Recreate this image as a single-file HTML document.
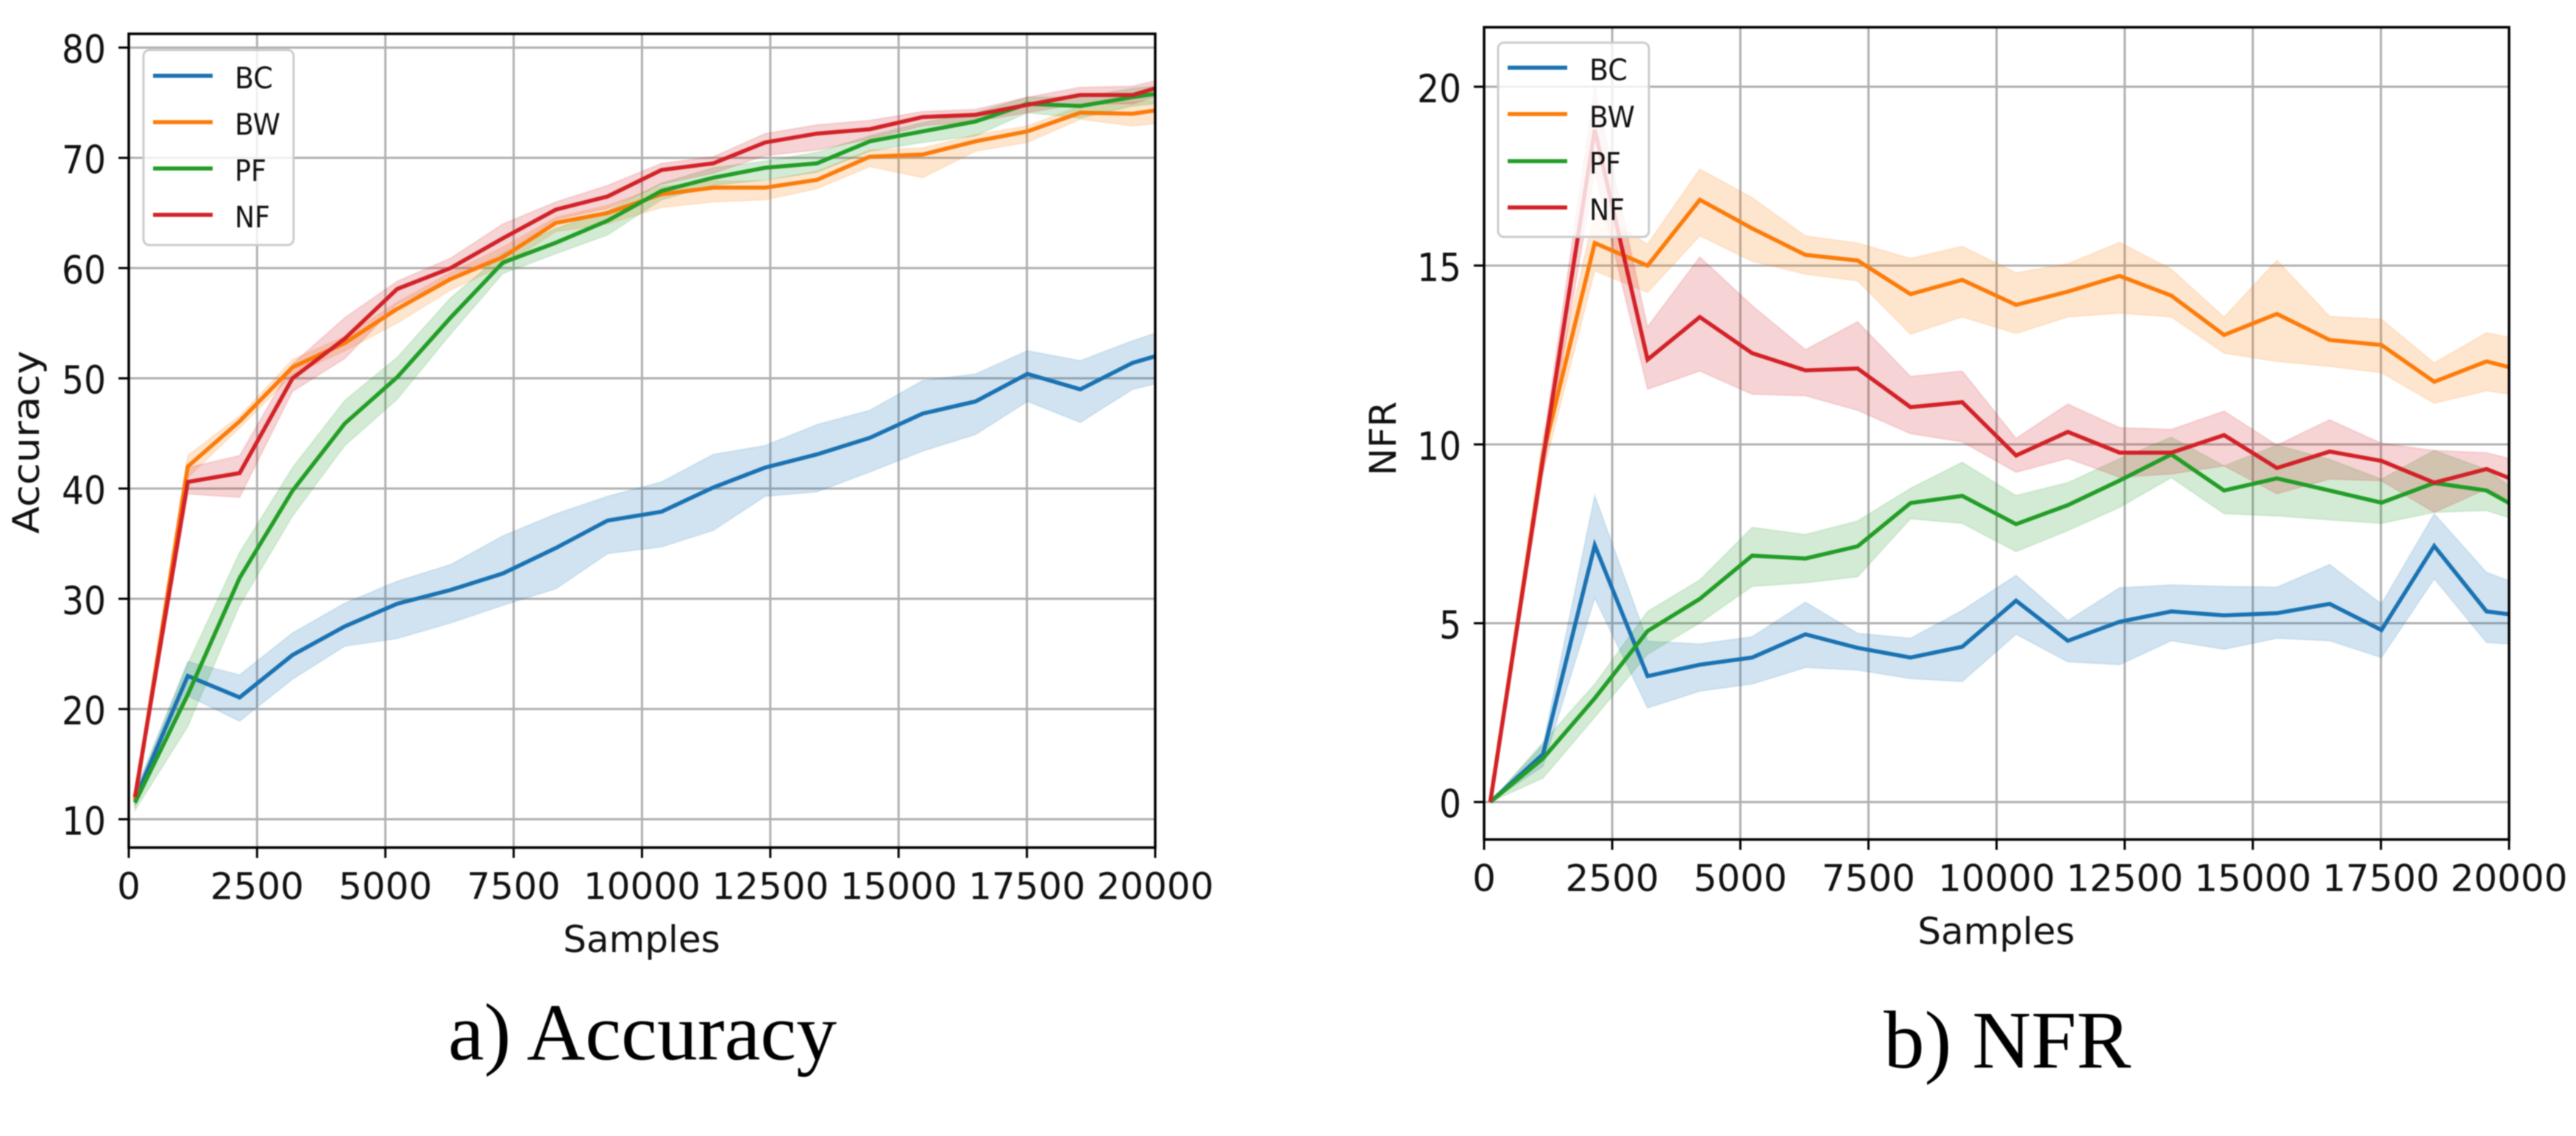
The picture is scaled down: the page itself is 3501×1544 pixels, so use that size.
<!DOCTYPE html>
<html lang="en">
<head>
<meta charset="utf-8">
<title>Accuracy and NFR versus samples</title>
<style>
html,body{margin:0;padding:0;background:#fff;width:3501px;height:1544px;overflow:hidden}
svg{display:block;filter:blur(0.9px)}
text{font-family:"DejaVu Sans","Liberation Sans",sans-serif;fill:#111}
.caption{font-family:"Liberation Serif",serif;fill:#000}
</style>
</head>
<body>
<svg id="figure" width="3501" height="1544" viewBox="0 0 3501 1544" xmlns="http://www.w3.org/2000/svg">
  <defs>
    <clipPath id="clip-a"><rect x="175" y="46" width="1395" height="1106"/></clipPath>
    <clipPath id="clip-b"><rect x="2017" y="37" width="1393" height="1104"/></clipPath>
  </defs>
  <rect width="3501" height="1544" fill="#fff"/>
  <g id="chart-a"></g>
  <g id="chart-b"></g>

  <text x="872" y="1294" font-size="50" text-anchor="middle">Samples</text>
  <text transform="translate(53 601) rotate(-90)" font-size="50" text-anchor="middle" textLength="249" lengthAdjust="spacingAndGlyphs">Accuracy</text>
  <text x="2713" y="1283" font-size="50" text-anchor="middle">Samples</text>
  <text transform="translate(1897 596) rotate(-90)" font-size="50" text-anchor="middle">NFR</text>

  <g>
    <rect x="195" y="68" width="204" height="265" rx="8" fill="#fff" fill-opacity="0.8" stroke="#ccc" stroke-width="3"/>
    <g><line x1="208" x2="289" y1="103" y2="103" stroke="#1a72b2" stroke-width="5.5"/><text x="319" y="120" font-size="40" textLength="52" lengthAdjust="spacingAndGlyphs">BC</text></g>
    <g><line x1="208" x2="289" y1="166" y2="166" stroke="#fb7c0a" stroke-width="5.5"/><text x="319" y="183" font-size="40" textLength="62" lengthAdjust="spacingAndGlyphs">BW</text></g>
    <g><line x1="208" x2="289" y1="229" y2="229" stroke="#229d27" stroke-width="5.5"/><text x="319" y="246" font-size="40" textLength="43" lengthAdjust="spacingAndGlyphs">PF</text></g>
    <g><line x1="208" x2="289" y1="292" y2="292" stroke="#d22228" stroke-width="5.5"/><text x="319" y="309" font-size="40" textLength="48" lengthAdjust="spacingAndGlyphs">NF</text></g>
  </g>
  <g>
    <rect x="2036" y="58" width="205" height="264" rx="8" fill="#fff" fill-opacity="0.8" stroke="#ccc" stroke-width="3"/>
    <g><line x1="2049" x2="2130" y1="92" y2="92" stroke="#1a72b2" stroke-width="5.5"/><text x="2160" y="109" font-size="40" textLength="52" lengthAdjust="spacingAndGlyphs">BC</text></g>
    <g><line x1="2049" x2="2130" y1="155" y2="155" stroke="#fb7c0a" stroke-width="5.5"/><text x="2160" y="173" font-size="40" textLength="62" lengthAdjust="spacingAndGlyphs">BW</text></g>
    <g><line x1="2049" x2="2130" y1="219" y2="219" stroke="#229d27" stroke-width="5.5"/><text x="2160" y="236" font-size="40" textLength="43" lengthAdjust="spacingAndGlyphs">PF</text></g>
    <g><line x1="2049" x2="2130" y1="282" y2="282" stroke="#d22228" stroke-width="5.5"/><text x="2160" y="299" font-size="40" textLength="48" lengthAdjust="spacingAndGlyphs">NF</text></g>
  </g>

  <text class="caption" x="609" y="1440" font-size="110">a) Accuracy</text>
  <text class="caption" x="2560" y="1451" font-size="111">b) NFR</text>
</svg>
<script>
const samples = [120,1150,2160,3190,4210,5230,6270,7290,8320,9330,10380,11390,12400,13410,14440,15470,16500,17510,18540,19560,20000];
const xTicks = [0,2500,5000,7500,10000,12500,15000,17500,20000];
const accuracyTicks = [10,20,30,40,50,60,70,80];
const nfrTicks = [0,5,10,15,20];

const accBC = [11.8,23.0,21.05,24.9,27.5,29.55,30.8,32.3,34.6,37.1,37.9,40.1,41.9,43.1,44.6,46.8,47.9,50.4,49.0,51.4,52.0];
const accBCHigh = [12.5,24.3,23.1,26.9,29.6,31.6,33.1,35.7,37.7,39.3,40.6,43.1,43.9,45.8,47.1,49.8,50.4,52.5,51.6,53.4,54.1];
const accBCLow = [11.2,21.2,18.9,22.7,25.7,26.4,27.8,29.4,30.9,34.1,34.7,36.2,39.3,39.7,41.5,43.4,44.9,47.9,46.0,49.0,49.5];

const accBW = [11.7,42.0,46.1,51.0,53.2,56.3,59.0,61.0,64.1,65.0,66.7,67.3,67.3,68.0,70.1,70.3,71.5,72.4,74.1,74.0,74.3];
const accBWHigh = [12.5,43.0,46.6,51.7,53.8,56.9,59.6,61.9,64.6,65.7,67.4,67.9,67.9,68.8,70.7,70.9,72.1,72.9,74.7,75.1,75.2];
const accBWLow = [11.0,41.0,45.5,50.3,52.5,55.0,58.0,60.2,63.3,64.0,65.5,66.0,66.2,67.2,69.2,68.2,70.6,71.4,73.5,72.9,73.1];

const accPF = [11.5,21.3,31.9,39.8,45.9,50.1,55.5,60.5,62.3,64.3,67.0,68.2,69.1,69.5,71.5,72.4,73.3,74.9,74.7,75.5,75.8];
const accPFHigh = [12.2,24.1,34.2,41.9,48.0,51.9,57.3,61.3,63.6,65.2,67.7,69.1,69.7,70.5,72.0,73.2,74.1,75.5,75.5,76.3,76.5];
const accPFLow = [10.8,18.4,29.4,37.5,43.9,48.1,54.0,59.5,61.3,63.0,66.2,67.5,68.0,68.7,70.6,71.4,72.0,74.1,73.6,74.7,74.9];

const accNF = [12.0,40.6,41.4,50.0,53.6,58.1,60.0,62.7,65.3,66.5,68.9,69.5,71.4,72.2,72.6,73.7,73.9,74.8,75.7,75.7,76.3];
const accNFHigh = [12.5,41.9,43.0,51.3,55.5,58.8,60.9,64.0,66.0,67.5,69.5,70.1,72.2,73.0,73.4,74.2,74.4,75.5,76.4,76.5,77.0];
const accNFLow = [11.5,39.5,39.2,48.8,51.8,56.7,59.0,61.3,64.4,65.4,67.6,68.6,70.2,70.7,71.7,72.9,73.3,74.1,74.9,74.9,75.5];

const nfrBC = [0,1.34,7.18,3.52,3.84,4.04,4.69,4.31,4.04,4.34,5.63,4.51,5.04,5.33,5.22,5.28,5.54,4.81,7.16,5.33,5.25];
const nfrBCHigh = [0,1.6,8.57,4.5,4.42,4.62,5.59,4.72,4.58,5.36,6.34,5.07,5.99,6.07,6.03,6.01,6.64,5.54,8.06,6.42,6.19];
const nfrBCLow = [0,1.0,5.7,2.63,3.1,3.3,3.76,3.69,3.45,3.37,4.69,3.92,3.84,4.51,4.27,4.58,4.51,4.04,6.24,4.46,4.42];

const nfrBW = [0,9.7,15.63,15.0,16.84,16.04,15.3,15.14,14.2,14.6,13.9,14.27,14.71,14.16,13.06,13.65,12.92,12.78,11.75,12.32,12.16];
const nfrBWHigh = [0,10.2,16.5,15.6,17.7,16.9,15.83,15.63,15.2,15.54,14.8,15.05,15.65,14.9,13.56,15.15,13.58,13.5,12.28,13.12,13.0];
const nfrBWLow = [0,9.2,14.85,14.25,15.83,15.12,14.76,14.57,13.08,13.56,13.1,13.56,13.67,13.56,12.55,12.32,12.18,12.0,11.15,11.5,11.4];

const nfrPF = [0,1.22,2.9,4.78,5.68,6.89,6.81,7.15,8.36,8.56,7.77,8.3,8.99,9.72,8.71,9.05,8.71,8.37,8.92,8.71,8.36];
const nfrPFHigh = [0,1.67,3.3,5.33,6.21,7.68,7.48,7.86,8.77,9.5,8.57,8.93,9.6,10.2,9.4,9.98,9.58,9.03,9.83,9.3,8.85];
const nfrPFLow = [0,0.67,2.37,4.13,5.01,6.03,6.13,6.3,7.92,7.79,7.0,7.59,8.24,9.07,8.06,8.0,7.89,7.79,8.1,8.15,7.95];

const nfrNF = [0,9.6,18.8,12.37,13.56,12.55,12.07,12.12,11.04,11.18,9.69,10.35,9.77,9.77,10.26,9.34,9.8,9.54,8.93,9.31,9.06];
const nfrNFHigh = [0,10.0,20.0,13.29,15.24,13.88,12.65,13.43,11.9,12.05,10.17,11.13,10.47,10.42,10.93,9.98,10.69,10.03,9.83,9.77,9.61];
const nfrNFLow = [0,9.2,17.6,11.54,12.05,11.4,11.36,10.95,10.3,10.07,9.22,9.61,9.08,9.17,9.4,8.62,9.03,8.98,8.1,8.75,8.46];

const colors = {BC:'#1a72b2',BW:'#fb7c0a',PF:'#229d27',NF:'#d22228'};
const NS = 'http://www.w3.org/2000/svg';

function make(parent, tag, props){
  const el = document.createElementNS(NS, tag);
  for (const k in props) el.setAttribute(k, props[k]);
  parent.appendChild(el);
  return el;
}

function drawChart(groupId, box, xDomain, yDomain, yTicks, clipId, series){
  const g = document.getElementById(groupId);
  const xScale = v => box.left + (v - xDomain[0]) / (xDomain[1] - xDomain[0]) * (box.right - box.left);
  const yScale = v => yDomain.y0 + (v - yDomain.v0) * (yDomain.y1 - yDomain.y0) / (yDomain.v1 - yDomain.v0);

  xTicks.forEach(t => {
    const x = xScale(t);
    const grid = make(g, 'line', {x1:x, x2:x, y1:box.top, y2:box.bottom, stroke:'#b0b0b0', 'stroke-width':3});
    
    
  });
  yTicks.forEach(t => {
    const y = yScale(t);
    const grid = make(g, 'line', {x1:box.left, x2:box.right, y1:y, y2:y, stroke:'#b0b0b0', 'stroke-width':3});
    
    
  });

  series.forEach(s => {
    const up = samples.map((x, i) => xScale(x).toFixed(1) + ',' + yScale(s.high[i]).toFixed(1));
    const dn = samples.map((x, i) => xScale(x).toFixed(1) + ',' + yScale(s.low[i]).toFixed(1)).reverse();
    const band = make(g, 'polygon', {points:up.concat(dn).join(' '), fill:colors[s.key], 'fill-opacity':0.2, stroke:colors[s.key], 'stroke-opacity':0.12, 'stroke-width':2, 'clip-path':'url(#' + clipId + ')'});
    
    
  });
  series.forEach(s => {
    const pts = samples.map((x, i) => xScale(x).toFixed(1) + ',' + yScale(s.mean[i]).toFixed(1)).join(' ');
    const line = make(g, 'polyline', {points:pts, fill:'none', stroke:colors[s.key], 'stroke-width':5.5, 'stroke-linejoin':'miter', 'clip-path':'url(#' + clipId + ')'});
    
    
  });

  xTicks.forEach(t => {
    const x = xScale(t);
    const mark = make(g, 'line', {x1:x, x2:x, y1:box.bottom, y2:box.bottom + 14, stroke:'#000', 'stroke-width':3});
    
    
    const label = make(g, 'text', {x:x, y:box.bottom + 70, 'font-size':50, 'text-anchor':'middle'});
    
    
    label.textContent = String(t);
  });
  yTicks.forEach(t => {
    const y = yScale(t);
    const mark = make(g, 'line', {x1:box.left - 14, x2:box.left, y1:y, y2:y, stroke:'#000', 'stroke-width':3});
    
    
    const text = String(t);
    const label = make(g, 'text', {x:box.left - 31, y:y + 21, 'font-size':53, 'text-anchor':'end', textLength:text.length * 30, lengthAdjust:'spacingAndGlyphs'});
    
    
    label.textContent = text;
  });

  const frame = make(g, 'rect', {x:box.left, y:box.top, width:box.right - box.left, height:box.bottom - box.top, fill:'none', stroke:'#000', 'stroke-width':3.5});
  
  
}

drawChart('chart-a', {left:175, right:1570, top:46, bottom:1152}, [0,20000], {v0:10, y0:1113.5, v1:80, y1:64.7}, accuracyTicks, 'clip-a', [
  {key:'BC', mean:accBC, high:accBCHigh, low:accBCLow},
  {key:'BW', mean:accBW, high:accBWHigh, low:accBWLow},
  {key:'PF', mean:accPF, high:accPFHigh, low:accPFLow},
  {key:'NF', mean:accNF, high:accNFHigh, low:accNFLow}
]);
drawChart('chart-b', {left:2017, right:3410, top:37, bottom:1141}, [0,20000], {v0:0, y0:1090.1, v1:20, y1:117.9}, nfrTicks, 'clip-b', [
  {key:'BC', mean:nfrBC, high:nfrBCHigh, low:nfrBCLow},
  {key:'BW', mean:nfrBW, high:nfrBWHigh, low:nfrBWLow},
  {key:'PF', mean:nfrPF, high:nfrPFHigh, low:nfrPFLow},
  {key:'NF', mean:nfrNF, high:nfrNFHigh, low:nfrNFLow}
]);
</script>
</body>
</html>
